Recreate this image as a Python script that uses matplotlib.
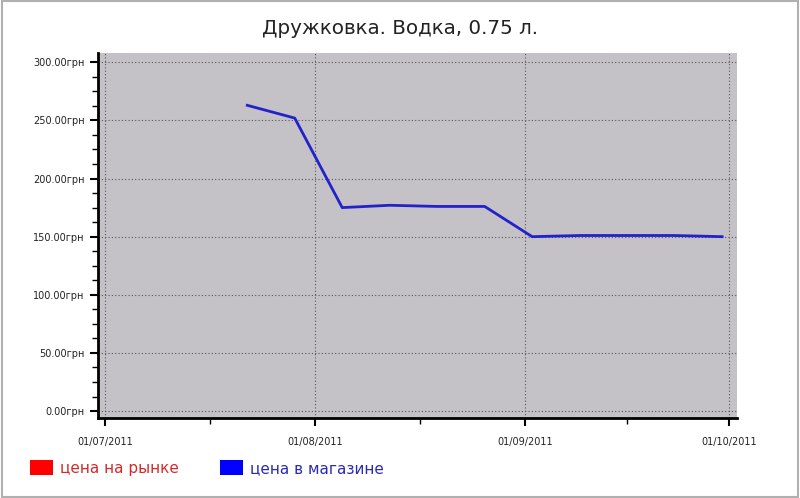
import datetime as dt
import matplotlib
matplotlib.use('Agg')
import matplotlib.pyplot as plt
import matplotlib.dates as mdates
from matplotlib.patches import Patch, Rectangle
from matplotlib.ticker import FuncFormatter, MultipleLocator

# weekly shop prices (market price series has no data)
dates = ['2011-07-22', '2011-07-29', '2011-08-05', '2011-08-12',
         '2011-08-19', '2011-08-26', '2011-09-02', '2011-09-09',
         '2011-09-16', '2011-09-23', '2011-09-30']
shop_price = [263, 252, 175, 177, 176, 176, 150, 151, 151, 151, 150]
market_dates = []
market_price = []
month_ticks = ['2011-07-01', '2011-08-01', '2011-09-01', '2011-10-01']
legend_labels = ['цена на рынке', 'цена в магазине']

x = [dt.datetime.strptime(d, '%Y-%m-%d') for d in dates]
xm = [dt.datetime.strptime(d, '%Y-%m-%d') for d in market_dates]
xt = [dt.datetime.strptime(d, '%Y-%m-%d') for d in month_ticks]

plt.rcParams['font.family'] = 'DejaVu Sans'

fig = plt.figure(figsize=(8, 4.98), dpi=100)
fig.patches.append(Rectangle((0.002, 0.002), 0.996, 0.996, transform=fig.transFigure,
                             fill=False, edgecolor='#b0b0b0', lw=1.5))
ax = fig.add_axes([0.1225, 0.1606, 0.7988, 0.733])
ax.set_facecolor('#c4c2c6')

ax.plot(xm, market_price, c='#ff0000', lw=2)
ax.plot(x, shop_price, c='#2222cc', lw=2)

ax.set_ylim(-6, 308)
ax.set_xlim(xt[0] - dt.timedelta(days=1.0), xt[-1] + dt.timedelta(days=1.2))
ax.yaxis.set_major_locator(MultipleLocator(50))
ax.yaxis.set_minor_locator(MultipleLocator(12.5))
ax.yaxis.set_major_formatter(FuncFormatter(lambda v, p: f'{v:.2f}грн'))
ax.set_xticks(xt)
ax.set_xticks([a + (b - a) / 2 for a, b in zip(xt[:-1], xt[1:])], minor=True)
ax.xaxis.set_major_formatter(mdates.DateFormatter('%d/%m/%Y'))

for s in ['top', 'right']:
    ax.spines[s].set_visible(False)
for s in ['left', 'bottom']:
    ax.spines[s].set_linewidth(2)
ax.tick_params(which='major', direction='out', length=6, width=1.5,
               labelsize=7, colors='black', labelcolor='#222222')
ax.tick_params(which='minor', direction='out', length=4, width=1)
ax.tick_params(axis='x', which='major', pad=8)
ax.grid(which='major', color='#555555', lw=0.8, ls=(0, (1, 2)))

fig.suptitle('Дружковка. Водка, 0.75 л.', y=0.962, fontsize=14.3, color='#222222')

handles = [Patch(facecolor='#ff0000', edgecolor='none'),
           Patch(facecolor='#0000ff', edgecolor='none')]
fig.legend(handles, legend_labels, loc='lower left', bbox_to_anchor=(0.02, 0.017),
           ncol=2, frameon=False, fontsize=11, handlelength=1.5, handleheight=1.1,
           columnspacing=2.75, handletextpad=0.45,
           labelcolor=['#d42a2a', '#2a2ab4'])

fig.savefig('out.png', dpi=100)
